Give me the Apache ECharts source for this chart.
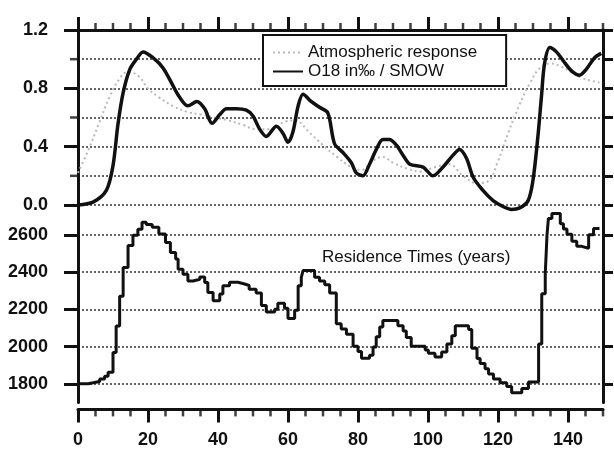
<!DOCTYPE html>
<html>
<head>
<meta charset="utf-8">
<script src="https://cdn.jsdelivr.net/npm/echarts@6/dist/echarts.min.js"></script>
<style>
  html, body { margin: 0; padding: 0; background: #fff; }
  #chart { width: 614px; height: 457px; }
</style>
</head>
<body>
<div id="chart"></div>
<script>
// Upper panel: atmospheric response curve
const atmosX = [0, 3, 6, 9, 12, 14, 17, 20, 23, 27, 31, 35, 39, 43, 47, 51, 55, 59, 62, 66, 70, 74, 78, 81, 84, 87, 90, 94, 98, 102, 106, 110, 114, 117, 120, 123, 126, 129, 132, 135, 138, 141, 144, 147, 149];
const atmosY = [0.22, 0.38, 0.56, 0.74, 0.87, 0.91, 0.89, 0.80, 0.74, 0.68, 0.64, 0.62, 0.60, 0.58, 0.55, 0.52, 0.52, 0.57, 0.58, 0.50, 0.41, 0.33, 0.26, 0.24, 0.30, 0.33, 0.29, 0.25, 0.23, 0.26, 0.28, 0.20, 0.15, 0.16, 0.30, 0.50, 0.68, 0.83, 0.94, 0.97, 0.95, 0.91, 0.87, 0.85, 0.84];

// Upper panel: O18 in per mil relative to SMOW
const o18X = [0, 4.3, 8.1, 10, 11.4, 12.9, 14.8, 16.7, 18.6, 21.4, 24.3, 27.1, 29, 31.4, 34, 36.2, 38.3, 40.5, 42.4, 45.2, 48.1, 50, 51.9, 53.8, 56.7, 58.6, 60, 61.4, 62.9, 64.3, 66.6, 69, 71.4, 73.3, 75.7, 78.1, 79.5, 81.4, 83.3, 85.2, 87.1, 89, 91, 92.9, 94.8, 98.6, 101.4, 104.3, 107.1, 109, 111, 112.9, 115.7, 118.6, 121.4, 123.8, 126.2, 128.6, 130, 131.4, 132.4, 133.3, 134.8, 136.7, 138.6, 141, 143.3, 145.2, 147.6, 149.5];
const o18Y = [0, 0.02, 0.1, 0.27, 0.55, 0.77, 0.93, 1.0, 1.05, 1.01, 0.94, 0.82, 0.74, 0.68, 0.71, 0.66, 0.56, 0.62, 0.66, 0.66, 0.65, 0.61, 0.52, 0.47, 0.54, 0.49, 0.43, 0.5, 0.68, 0.76, 0.71, 0.67, 0.63, 0.42, 0.36, 0.29, 0.22, 0.2, 0.28, 0.38, 0.45, 0.45, 0.41, 0.34, 0.28, 0.26, 0.2, 0.26, 0.34, 0.38, 0.32, 0.19, 0.1, 0.03, -0.01, -0.03, -0.02, 0.03, 0.17, 0.47, 0.74, 0.97, 1.08, 1.05, 0.99, 0.92, 0.89, 0.93, 1.01, 1.04];

// Lower panel: residence times in years (each value holds until the next x)
const resX = [0, 2.9, 4.3, 6.2, 7.6, 8.6, 10, 10.9, 11.9, 12.9, 14.3, 15.7, 17.1, 18.3, 19.5, 21.2, 23.1, 25, 26.4, 27.9, 28.6, 30, 31.4, 32.9, 34.8, 36.2, 37.1, 38.6, 40.5, 41.4, 43.3, 45.7, 47.6, 48.9, 50.9, 52.4, 53.8, 56.2, 57.1, 59, 60, 61.9, 62.9, 63.8, 64.3, 67.6, 69, 70.5, 71.9, 73.8, 75.2, 76.7, 78.6, 80, 81, 83.3, 84.3, 85.2, 86.2, 87.1, 91.4, 92.9, 93.8, 95.2, 99.2, 100.1, 102, 103.9, 105.4, 106.8, 107.8, 111.6, 112.5, 114, 114.9, 116.3, 117.3, 118.7, 120.6, 122.5, 123.9, 126.8, 128.7, 131.6, 132.5, 133.5, 134, 134.4, 135.4, 137.8, 138.7, 139.7, 141.1, 142.5, 143.9, 145.9, 147.3, 149];
const resY = [1800, 1805, 1812, 1825, 1840, 1862, 1968, 2110, 2270, 2425, 2542, 2598, 2630, 2668, 2655, 2640, 2604, 2559, 2505, 2470, 2415, 2388, 2352, 2361, 2374, 2344, 2290, 2246, 2282, 2327, 2345, 2336, 2328, 2307, 2288, 2220, 2185, 2200, 2232, 2205, 2150, 2195, 2327, 2372, 2408, 2372, 2352, 2332, 2288, 2122, 2094, 2066, 2002, 1973, 1937, 1953, 1998, 2052, 2105, 2140, 2112, 2084, 2048, 2001, 1982, 1964, 1944, 1970, 2014, 2058, 2112, 2091, 1991, 1936, 1909, 1881, 1853, 1825, 1806, 1786, 1752, 1774, 1809, 2014, 2284, 2391, 2598, 2688, 2714, 2659, 2631, 2603, 2566, 2538, 2528, 2600, 2634, 2634];

// Tick positions
const xMajorTicks = [0, 20, 40, 60, 80, 100, 120, 140];
const xMinorTicks = [5, 10, 15, 25, 30, 35, 45, 50, 55, 65, 70, 75, 85, 90, 95, 105, 110, 115, 125, 130, 135, 145, 150];
const o18MinorTicks = [0.2, 0.6, 1.0];
const resTicks = [1800, 2000, 2200, 2400, 2600];

const seriesNames = ['Atmospheric response', 'O18 in‰ / SMOW'];
const panelTitle = 'Residence Times (years)';

const zip = (xs, ys) => xs.map((x, i) => [x, ys[i]]);

const FONT = '"Liberation Sans", Arial, Helvetica, sans-serif';
const INK = '#111';
const GREY = '#b9b9b9';
const dotted = { color: '#333', width: 1.5, type: [2, 2] };
const axisLine = { show: true, onZero: false, lineStyle: { color: INK, width: 3 } };
const tickStyle = { color: INK, width: 3 };
const labelStyle = { color: INK, fontFamily: FONT, fontSize: 18, fontWeight: 'bold' };

const X_MIN = 0, X_MAX = 150;
const O18_MIN = 0, O18_MAX = 1.2;
const RES_MIN = 1700, RES_MAX = 2760;

const xBase = {
  type: 'value', min: X_MIN, max: X_MAX,
  splitLine: { show: false },
  axisLine,
  axisTick: { show: true, customValues: xMajorTicks, length: 13, lineStyle: tickStyle }
};

// Short tick marks placed through the axes' own scales
const tickMarks = (xAxisIndex, yAxisIndex, points, size, offset) => ({
  type: 'scatter', xAxisIndex, yAxisIndex, silent: true, clip: false,
  data: points, symbol: 'rect', symbolSize: size, symbolOffset: offset,
  itemStyle: { color: INK }, z: 6, tooltip: { show: false }
});

const option = {
  animation: false,
  backgroundColor: '#fff',
  title: {
    text: panelTitle,
    left: 322, top: 249, padding: 0,
    textStyle: { fontFamily: FONT, fontSize: 17, fontWeight: 'normal', color: INK }
  },
  legend: {
    data: seriesNames,
    orient: 'vertical',
    left: 263, top: 35,
    padding: [8, 29, 5, 9],
    itemGap: 0,
    itemWidth: 30, itemHeight: 14,
    borderColor: INK, borderWidth: 2,
    backgroundColor: '#fff',
    itemStyle: { color: 'transparent', borderColor: 'transparent', borderWidth: 0 },
    textStyle: { fontFamily: FONT, fontSize: 17, color: INK, lineHeight: 19 }
  },
  grid: [
    { left: 78, width: 525, top: 30, height: 175 },
    { left: 78, width: 525, top: 205, height: 197.4 }
  ],
  xAxis: [
    Object.assign({}, xBase, { gridIndex: 0, position: 'top', axisLabel: { show: false } }),
    Object.assign({}, xBase, {
      gridIndex: 1, position: 'bottom', offset: 7,
      axisLabel: Object.assign({ customValues: xMajorTicks, margin: 22 }, labelStyle)
    })
  ],
  yAxis: [
    {
      gridIndex: 0, type: 'value', position: 'left', min: O18_MIN, max: O18_MAX, interval: 0.4,
      axisLine,
      axisTick: { show: true, length: 14, lineStyle: tickStyle },
      splitLine: { show: true, lineStyle: dotted },
      minorTick: { show: false, splitNumber: 2 },
      minorSplitLine: { show: true, lineStyle: dotted },
      axisLabel: Object.assign({ margin: 30, formatter: v => v.toFixed(1) }, labelStyle)
    },
    {
      gridIndex: 0, type: 'value', position: 'right', min: O18_MIN, max: O18_MAX, interval: 0.2,
      axisLine,
      axisTick: { show: true, length: 10, lineStyle: tickStyle },
      splitLine: { show: false },
      axisLabel: { show: false }
    },
    {
      gridIndex: 1, type: 'value', position: 'left', min: RES_MIN, max: RES_MAX,
      axisLine,
      axisTick: { show: true, customValues: resTicks, length: 14, lineStyle: tickStyle },
      splitLine: { show: true, lineStyle: dotted },
      axisLabel: Object.assign({ customValues: resTicks, margin: 30, formatter: v => String(v) }, labelStyle)
    },
    {
      gridIndex: 1, type: 'value', position: 'right', min: RES_MIN, max: RES_MAX,
      axisLine,
      axisTick: { show: true, customValues: resTicks, length: 10, lineStyle: tickStyle },
      splitLine: { show: false },
      axisLabel: { show: false }
    }
  ],
  series: [
    {
      name: seriesNames[0], type: 'line', xAxisIndex: 0, yAxisIndex: 0,
      data: zip(atmosX, atmosY), smooth: 0.4, symbol: 'none',
      itemStyle: { color: GREY },
      lineStyle: { color: GREY, width: 2, type: [2, 3] }, z: 2
    },
    {
      name: seriesNames[1], type: 'line', xAxisIndex: 0, yAxisIndex: 0,
      data: zip(o18X, o18Y), smooth: 0.3, symbol: 'none', clip: false,
      itemStyle: { color: INK },
      lineStyle: { color: INK, width: 3.5 }, z: 3
    },
    {
      name: panelTitle, type: 'line', xAxisIndex: 1, yAxisIndex: 2,
      data: zip(resX, resY), step: 'end', symbol: 'none', clip: false,
      itemStyle: { color: INK },
      lineStyle: { color: INK, width: 3 }, z: 3
    },
    // minor ticks: top axis, bottom axis (offset 7 below the panel), left axis of the upper panel
    tickMarks(0, 0, xMinorTicks.map(x => [x, O18_MAX]), [2.5, 6], [0, -4]),
    tickMarks(1, 2, xMinorTicks.map(x => [x, RES_MIN]), [2.5, 6], [0, 11]),
    tickMarks(0, 0, o18MinorTicks.map(y => [X_MIN, y]), [7, 2.5], [-4.5, 0])
  ]
};

const chart = echarts.init(document.getElementById('chart'), null, { renderer: 'canvas' });
chart.setOption(option);
</script>
</body>
</html>
